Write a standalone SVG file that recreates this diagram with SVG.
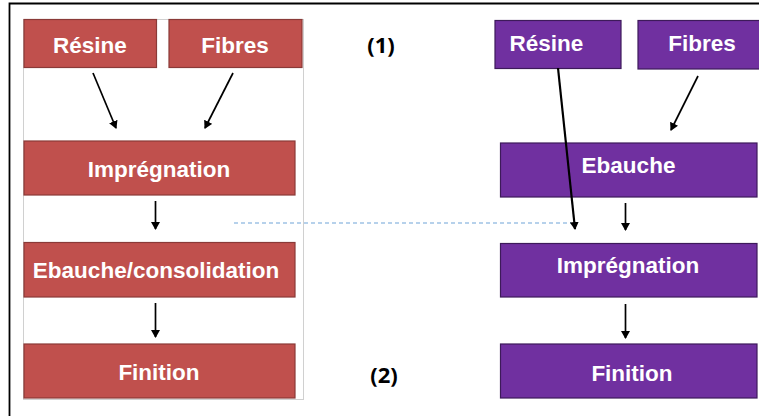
<svg xmlns="http://www.w3.org/2000/svg" width="759" height="416" viewBox="0 0 759 416">
<style>
.red{fill:#c0504d;stroke:#8a3a38;stroke-width:1.2}
.pur{fill:#7030a0;stroke:#3d1a5a;stroke-width:1.2}
.t{font-family:"Liberation Sans",Arial,sans-serif;font-weight:bold;font-size:22.5px;fill:#fff;text-anchor:middle}
.lab{font-family:"Open Sans","Liberation Sans",sans-serif;font-weight:bold;font-size:22px;fill:#000;text-anchor:middle}
.c{stroke:#000;stroke-width:1.7;fill:none;marker-end:url(#ah)}
</style>
<defs>
<marker id="ah" markerWidth="8" markerHeight="9" refX="7" refY="4.5" orient="auto" markerUnits="userSpaceOnUse">
<path d="M0,0 L8,4.5 L0,9 Z" fill="#000"/>
</marker>
</defs>
<rect x="0" y="0" width="759" height="416" fill="#fff"/>
<path d="M9.5,416 V3.5 H759" fill="none" stroke="#000" stroke-width="1.8"/>
<rect x="23.5" y="19.5" width="280" height="380" fill="#fff" stroke="#d0d0d0" stroke-width="1"/>
<g id="l-resine"><rect class="red" x="24" y="19.5" width="132.5" height="48"/><text class="t" x="90" y="53">Résine</text></g>
<g id="l-fibres"><rect class="red" x="169" y="19.5" width="133" height="48"/><text class="t" x="235" y="53">Fibres</text></g>
<g id="l-impregnation"><rect class="red" x="24" y="141" width="271" height="54"/><text class="t" x="159" y="177">Imprégnation</text></g>
<g id="l-ebauche"><rect class="red" x="24" y="242.5" width="271" height="54.5"/><text class="t" x="156" y="278">Ebauche/consolidation</text></g>
<g id="l-finition"><rect class="red" x="24" y="344" width="271" height="54"/><text class="t" x="159" y="380">Finition</text></g>
<g id="r-resine"><rect class="pur" x="495" y="20.5" width="126" height="48"/><text class="t" x="546.5" y="50.5">Résine</text></g>
<g id="r-fibres"><rect class="pur" x="638" y="20.5" width="125" height="48.5"/><text class="t" x="702" y="50.5">Fibres</text></g>
<g id="r-ebauche"><rect class="pur" x="500.5" y="143" width="256.5" height="54"/><text class="t" x="628.5" y="172.5">Ebauche</text></g>
<g id="r-impregnation"><rect class="pur" x="500.5" y="243.5" width="256.5" height="53.5"/><text class="t" x="628" y="273">Imprégnation</text></g>
<g id="r-finition"><rect class="pur" x="500.5" y="344" width="256.5" height="54"/><text class="t" x="632" y="380.5">Finition</text></g>
<text class="lab" x="381" y="53">(1)</text>
<text class="lab" x="384" y="383">(2)</text>
<g id="connectors">
<line x1="234" y1="223" x2="571" y2="223" stroke="#6fa3d8" stroke-width="1.1" stroke-dasharray="4,3"/>
<line class="c" x1="93" y1="73" x2="116" y2="128"/>
<line class="c" x1="233" y1="73" x2="205" y2="128"/>
<line class="c" x1="155.5" y1="201" x2="155.5" y2="229"/>
<line class="c" x1="155.5" y1="303" x2="155.5" y2="337"/>
<line class="c" x1="698" y1="76" x2="671" y2="130"/>
<line class="c" x1="558" y1="68" x2="575" y2="229" style="stroke-width:2.2"/>
<line class="c" x1="625.5" y1="203" x2="625.5" y2="230"/>
<line class="c" x1="625.5" y1="304" x2="625.5" y2="338"/>
</g>
</svg>
